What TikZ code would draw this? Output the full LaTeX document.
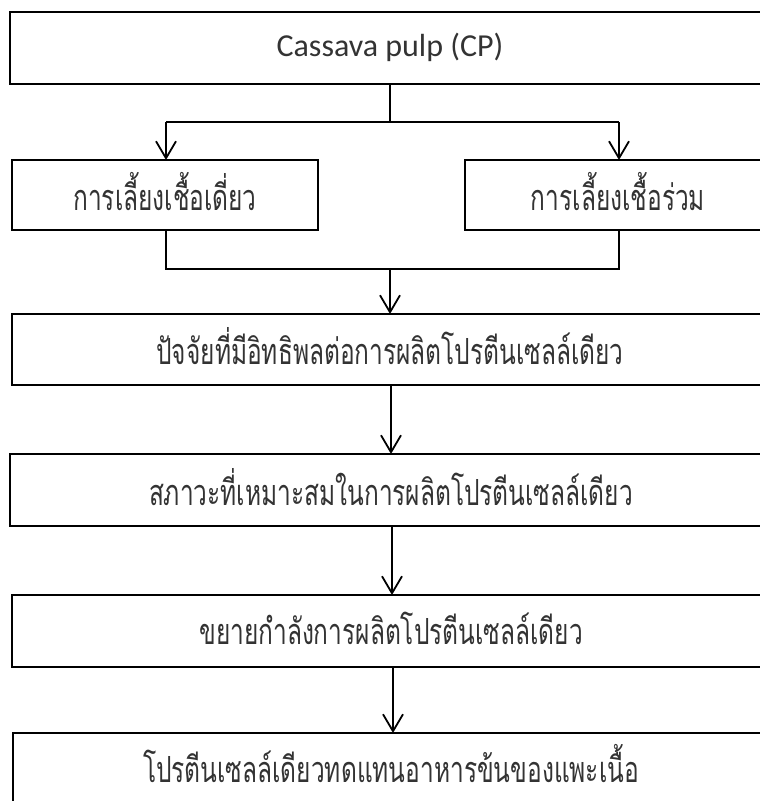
\documentclass[tikz,border=0pt]{standalone}
\usepackage{fontspec}
\usetikzlibrary{arrows.meta}
\newfontfamily\thaifont[Script=Thai,FakeStretch=0.68]{Loma}
\newfontfamily\latinfont{Carlito}
\begin{document}
\begin{tikzpicture}[x=1pt,y=-1pt,
  box/.style={draw,line width=2pt,inner sep=0pt},
  conn/.style={line width=1.8pt},
  arr/.style={line width=1.8pt,-{Straight Barb[length=17pt,width=20pt,line width=1.8pt]}},
  lbl/.style={font=\thaifont\fontsize{36}{40}\selectfont,text=black!80}]
\useasboundingbox (0,0) rectangle (760,801);
\begin{scope}
\clip (0,0) rectangle (760,801);
% boxes
\draw[box] (10,12) rectangle (775,84);
\node[font=\latinfont\fontsize{32}{35}\selectfont,text=black!80] (cp) at (390,47) {Cassava pulp (CP)};
\coordinate (b1s) at (390,84);
\draw[box] (12,160) rectangle (318,230);
\node[lbl] (mono) at (165,192) {การเลี้ยงเชื้อเดี่ยว};
\draw[box] (465,160) rectangle (775,230);
\node[lbl] (co) at (618,192) {การเลี้ยงเชื้อร่วม};
\draw[box] (12,314) rectangle (775,385);
\node[lbl] (fac) at (390,346) {ปัจจัยที่มีอิทธิพลต่อการผลิตโปรตีนเซลล์เดียว};
\draw[box] (10,454) rectangle (775,526);
\node[lbl] (opt) at (391,487) {สภาวะที่เหมาะสมในการผลิตโปรตีนเซลล์เดียว};
\draw[box] (12,595) rectangle (775,667);
\node[lbl] (scale) at (391,628) {ขยายกำลังการผลิตโปรตีนเซลล์เดียว};
\draw[box] (13,733) rectangle (775,815);
\node[lbl] (sub) at (391,764) {โปรตีนเซลล์เดียวทดแทนอาหารข้นของแพะเนื้อ};
% connectors
\coordinate (t1) at (390,122);
\coordinate (tl) at (166,122);
\coordinate (tr) at (619,122);
\coordinate (m2) at (166,160);
\coordinate (m3) at (619,160);
\draw[conn] (b1s) -- (t1);
\draw[conn] (tl) -- (tr);
\draw[arr] (tl) -- (m2);
\draw[arr] (tr) -- (m3);
\coordinate (b2) at (166,230);
\coordinate (b3) at (619,230);
\coordinate (jl) at (166,269);
\coordinate (jr) at (619,269);
\coordinate (jm) at (390,269);
\coordinate (f4) at (390,314);
\draw[conn] (b2) -- (jl) -- (jr) -- (b3);
\draw[arr] (jm) -- (f4);
\coordinate (f4b) at (391,385);
\coordinate (f5t) at (391,454);
\draw[arr] (f4b) -- (f5t);
\coordinate (f5b) at (392,526);
\coordinate (f6t) at (392,595);
\draw[arr] (f5b) -- (f6t);
\coordinate (f6b) at (393,667);
\coordinate (f7t) at (393,733);
\draw[arr] (f6b) -- (f7t);
\end{scope}
\end{tikzpicture}
\end{document}
